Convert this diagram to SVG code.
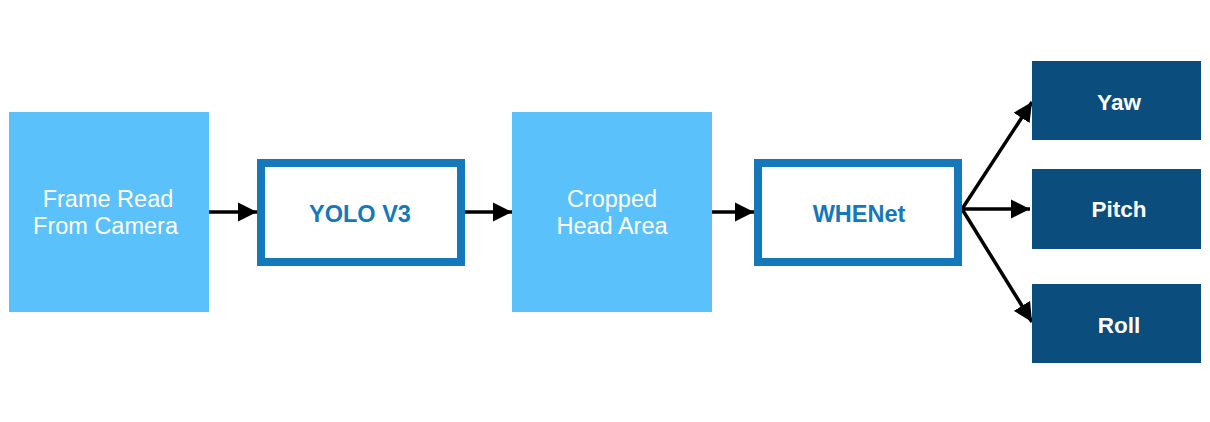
<svg xmlns="http://www.w3.org/2000/svg" width="1210" height="422" viewBox="0 0 1210 422">
<style>
.light{fill:#5BC1FB}
.outline{fill:#FFFFFF;stroke:#1478BA;stroke-width:8}
.dark{fill:#0B4D7C}
.wt{font-family:"Liberation Sans",Arial,sans-serif;font-size:23.5px;fill:#FFFFFF;text-anchor:middle}
.bt{font-family:"Liberation Sans",Arial,sans-serif;font-size:23.5px;font-weight:bold;fill:#1478BA;text-anchor:middle}
.dt{font-family:"Liberation Sans",Arial,sans-serif;font-size:22.5px;font-weight:bold;fill:#FFFFFF;text-anchor:middle}
.conn{stroke:#000000;stroke-width:3.5;fill:none;marker-end:url(#ah)}
</style>
<defs>
<marker id="ah" markerUnits="userSpaceOnUse" markerWidth="20" markerHeight="20" viewBox="0 0 20 20" refX="19" refY="10" orient="auto">
<path d="M0,0.5 L19,10 L0,19.5 Z" fill="#000000"/>
</marker>
</defs>
<rect width="1210" height="422" fill="#FFFFFF"/>
<g id="connectors">
<line class="conn" x1="209" y1="212" x2="257" y2="212"/>
<line class="conn" x1="465" y1="212" x2="512" y2="212"/>
<line class="conn" x1="711" y1="212" x2="754" y2="212"/>
<line class="conn" x1="962" y1="209" x2="1032" y2="102"/>
<line class="conn" x1="962" y1="209" x2="1030" y2="209"/>
<line class="conn" x1="962" y1="209" x2="1032" y2="322"/>
</g>
<g id="frame">
<rect class="light" x="9" y="112" width="200" height="200"/>
<text class="wt" x="108" y="207">Frame Read</text>
<text class="wt" x="105.5" y="234">From Camera</text>
</g>
<g id="yolo">
<rect class="outline" x="261" y="163" width="200" height="99"/>
<text class="bt" x="360" y="222">YOLO V3</text>
</g>
<g id="cropped">
<rect class="light" x="512" y="112" width="200" height="200"/>
<text class="wt" x="612" y="207">Cropped</text>
<text class="wt" x="612" y="234">Head Area</text>
</g>
<g id="whenet">
<rect class="outline" x="758" y="163" width="200" height="99"/>
<text class="bt" x="859" y="222">WHENet</text>
</g>
<g id="yaw">
<rect class="dark" x="1032" y="61" width="169" height="79"/>
<text class="dt" x="1119" y="110">Yaw</text>
</g>
<g id="pitch">
<rect class="dark" x="1032" y="169" width="169" height="80"/>
<text class="dt" x="1119" y="217">Pitch</text>
</g>
<g id="roll">
<rect class="dark" x="1032" y="284" width="169" height="79"/>
<text class="dt" x="1119" y="333">Roll</text>
</g>
</svg>
